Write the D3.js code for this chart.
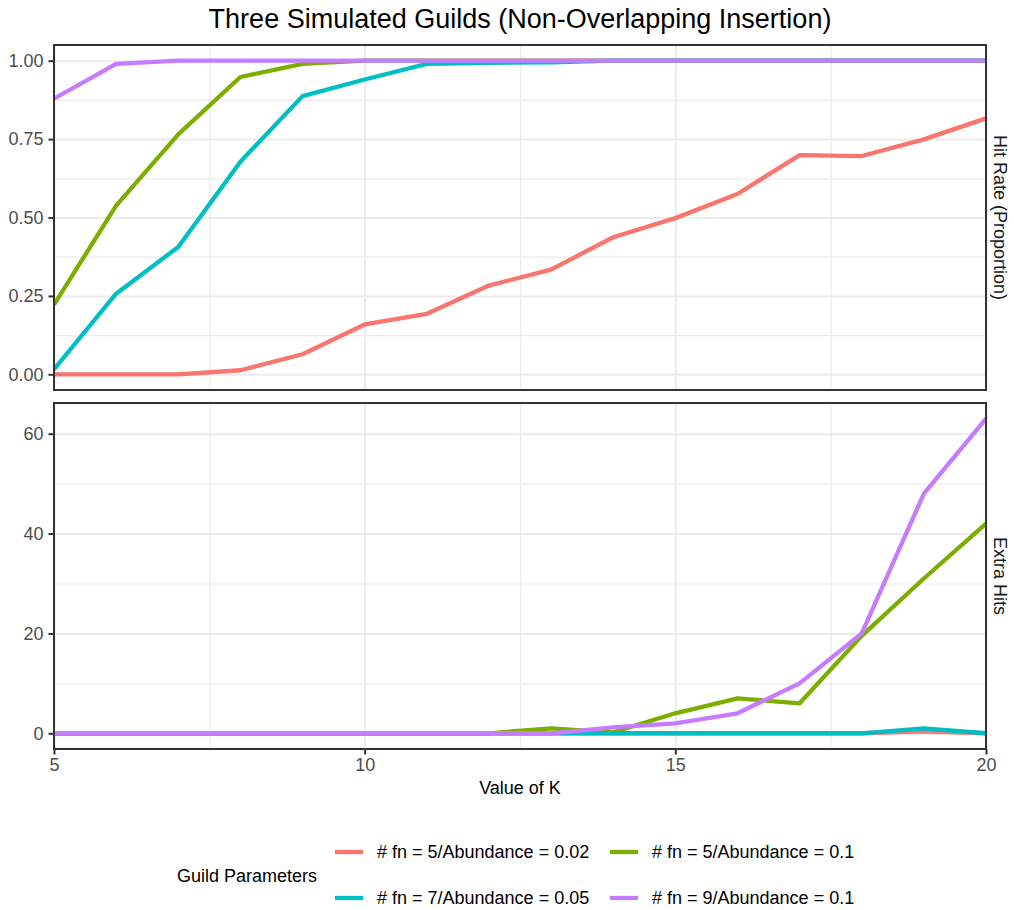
<!DOCTYPE html>
<html>
<head>
<meta charset="utf-8">
<script src="https://cdn.jsdelivr.net/npm/d3@7"></script>
<style>
  body { margin: 0; background: #fff; }
  svg text { font-family: "Liberation Sans", Arial, Helvetica, sans-serif; }
</style>
</head>
<body>
<svg id="chart" width="1014" height="910"></svg>
<script>
// values of K on the x axis
const kValues = [5, 6, 7, 8, 9, 10, 11, 12, 13, 14, 15, 16, 17, 18, 19, 20];

const seriesNames = [
  '# fn = 5/Abundance = 0.02',
  '# fn = 5/Abundance = 0.1',
  '# fn = 7/Abundance = 0.05',
  '# fn = 9/Abundance = 0.1'
];
const seriesColors = ['#F8766D', '#7CAE00', '#00BFC4', '#C77CFF'];

// hit rate (proportion), one array per guild
const hitFn5Ab002 = [0, 0, 0, 0.013, 0.064, 0.159, 0.193, 0.283, 0.334, 0.437, 0.498, 0.575, 0.699, 0.696, 0.749, 0.816];
const hitFn5Ab01  = [0.222, 0.538, 0.765, 0.948, 0.99, 1, 1, 1, 1, 1, 1, 1, 1, 1, 1, 1];
const hitFn7Ab005 = [0.016, 0.257, 0.406, 0.678, 0.887, 0.94, 0.99, 0.993, 0.995, 1, 1, 1, 1, 1, 1, 1];
const hitFn9Ab01  = [0.879, 0.99, 1, 1, 1, 1, 1, 1, 1, 1, 1, 1, 1, 1, 1, 1];

// extra hits, one array per guild
const extraFn5Ab002 = [0, 0, 0, 0, 0, 0, 0, 0, 0, 0, 0, 0, 0, 0, 0.4, 0];
const extraFn5Ab01  = [0, 0, 0, 0, 0, 0, 0, 0, 1, 0.2, 4, 7, 6, 19.5, 31, 42];
const extraFn7Ab005 = [0, 0, 0, 0, 0, 0, 0, 0, 0, 0, 0, 0, 0, 0, 1, 0];
const extraFn9Ab01  = [0, 0, 0, 0, 0, 0, 0, 0, 0, 1.2, 2, 4, 10, 20, 48, 63];

const xTicks = [5, 10, 15, 20];
const xMinor = [7.5, 12.5, 17.5];
const hitTicks = [0, 0.25, 0.5, 0.75, 1];
const hitMinor = [0.125, 0.375, 0.625, 0.875];
const extraTicks = [0, 20, 40, 60];
const extraMinor = [10, 30, 50];

const svg = d3.select('#chart');
const left = 54, right = 986;

const x = d3.scaleLinear().domain([5, 20]).range([left, right]);

const panels = [
  {
    strip: 'Hit Rate (Proportion)',
    top: 45, bottom: 390,
    domain: [-0.05, 1.05],
    ticks: hitTicks, minor: hitMinor,
    fmt: d3.format('.2f'),
    series: [hitFn5Ab002, hitFn5Ab01, hitFn7Ab005, hitFn9Ab01]
  },
  {
    strip: 'Extra Hits',
    top: 403, bottom: 749,
    domain: [-3.15, 66.15],
    ticks: extraTicks, minor: extraMinor,
    fmt: d3.format('d'),
    series: [extraFn5Ab002, extraFn5Ab01, extraFn7Ab005, extraFn9Ab01]
  }
];

panels.forEach((p, pi) => {
  const y = d3.scaleLinear().domain(p.domain).range([p.bottom, p.top]);
  const g = svg.append('g');
  const h = p.bottom - p.top;

  // minor grid
  g.append('g')
    .attr('transform', `translate(0, ${p.bottom})`)
    .call(d3.axisBottom(x).tickValues(xMinor).tickSize(-h).tickFormat(''))
    .call(s => s.select('.domain').remove())
    .selectAll('line').attr('stroke', '#EBEBEB').attr('stroke-width', 1.2);
  g.append('g')
    .attr('transform', `translate(${left}, 0)`)
    .call(d3.axisLeft(y).tickValues(p.minor).tickSize(-(right - left)).tickFormat(''))
    .call(s => s.select('.domain').remove())
    .selectAll('line').attr('stroke', '#EBEBEB').attr('stroke-width', 1.2);

  // major grid
  g.append('g')
    .attr('transform', `translate(0, ${p.bottom})`)
    .call(d3.axisBottom(x).tickValues(xTicks).tickSize(-h).tickFormat(''))
    .call(s => s.select('.domain').remove())
    .selectAll('line').attr('stroke', '#EBEBEB').attr('stroke-width', 2);
  g.append('g')
    .attr('transform', `translate(${left}, 0)`)
    .call(d3.axisLeft(y).tickValues(p.ticks).tickSize(-(right - left)).tickFormat(''))
    .call(s => s.select('.domain').remove())
    .selectAll('line').attr('stroke', '#EBEBEB').attr('stroke-width', 2);

  // lines
  const clipId = 'clip' + pi;
  svg.append('clipPath').attr('id', clipId)
    .append('rect').attr('x', left).attr('y', p.top).attr('width', right - left).attr('height', h);

  const line = d3.line()
    .x((d, i) => x(kValues[i]))
    .y(d => y(d));

  g.append('g').attr('clip-path', `url(#${clipId})`)
    .selectAll('path')
    .data(p.series)
    .enter()
    .append('path')
    .attr('d', line)
    .attr('fill', 'none')
    .attr('stroke', (d, i) => seriesColors[i])
    .attr('stroke-width', 4.3)
    .attr('stroke-linejoin', 'round');

  // y axis
  const ya = g.append('g')
    .attr('transform', `translate(${left}, 0)`)
    .call(d3.axisLeft(y).tickValues(p.ticks).tickFormat(p.fmt).tickSize(5.5).tickPadding(5));
  ya.select('.domain').remove();
  ya.selectAll('line').attr('stroke', '#333333').attr('stroke-width', 2);
  ya.selectAll('text').attr('fill', '#4D4D4D').style('font-size', '18px');

  // panel border
  g.append('rect')
    .attr('x', left).attr('y', p.top)
    .attr('width', right - left).attr('height', h)
    .attr('fill', 'none').attr('stroke', '#333333').attr('stroke-width', 2);

  // strip label on the right
  g.append('text')
    .attr('transform', `translate(1000, ${(p.top + p.bottom) / 2}) rotate(90)`)
    .attr('text-anchor', 'middle')
    .attr('dy', '0.35em')
    .attr('fill', '#1A1A1A')
    .style('font-size', '18px')
    .text(p.strip);

  // x axis only under the last panel
  if (pi === panels.length - 1) {
    const xa = g.append('g')
      .attr('transform', `translate(0, ${p.bottom})`)
      .call(d3.axisBottom(x).tickValues(xTicks).tickSize(5.5).tickPadding(4));
    xa.select('.domain').remove();
    xa.selectAll('line').attr('stroke', '#333333').attr('stroke-width', 2);
    xa.selectAll('text').attr('fill', '#4D4D4D').style('font-size', '18px');
  }
});

// title
svg.append('text')
  .attr('x', (left + right) / 2).attr('y', 28)
  .attr('text-anchor', 'middle')
  .style('font-size', '27px')
  .text('Three Simulated Guilds (Non-Overlapping Insertion)');

// x axis title
svg.append('text')
  .attr('x', (left + right) / 2).attr('y', 794)
  .attr('text-anchor', 'middle')
  .style('font-size', '18px')
  .text('Value of K');

// legend
const legend = svg.append('g');
legend.append('text')
  .attr('x', 177).attr('y', 876)
  .attr('dy', '0.35em')
  .style('font-size', '18px')
  .text('Guild Parameters');

const colX = [335, 610];
const rowY = [852, 898];
// ggplot fills the legend by column: red, cyan in col 1; green, purple in col 2
const legendPos = [[0, 0], [1, 0], [0, 1], [1, 1]];

const items = legend.selectAll('.item')
  .data(seriesNames)
  .enter()
  .append('g')
  .attr('class', 'item')
  .attr('transform', (d, i) => `translate(${colX[legendPos[i][0]]}, ${rowY[legendPos[i][1]]})`);

items.append('line')
  .attr('x1', 0).attr('x2', 28)
  .attr('stroke', (d, i) => seriesColors[i])
  .attr('stroke-width', 4.3);

items.append('text')
  .attr('x', 42)
  .attr('dy', '0.35em')
  .style('font-size', '18px')
  .text(d => d);
</script>
</body>
</html>
